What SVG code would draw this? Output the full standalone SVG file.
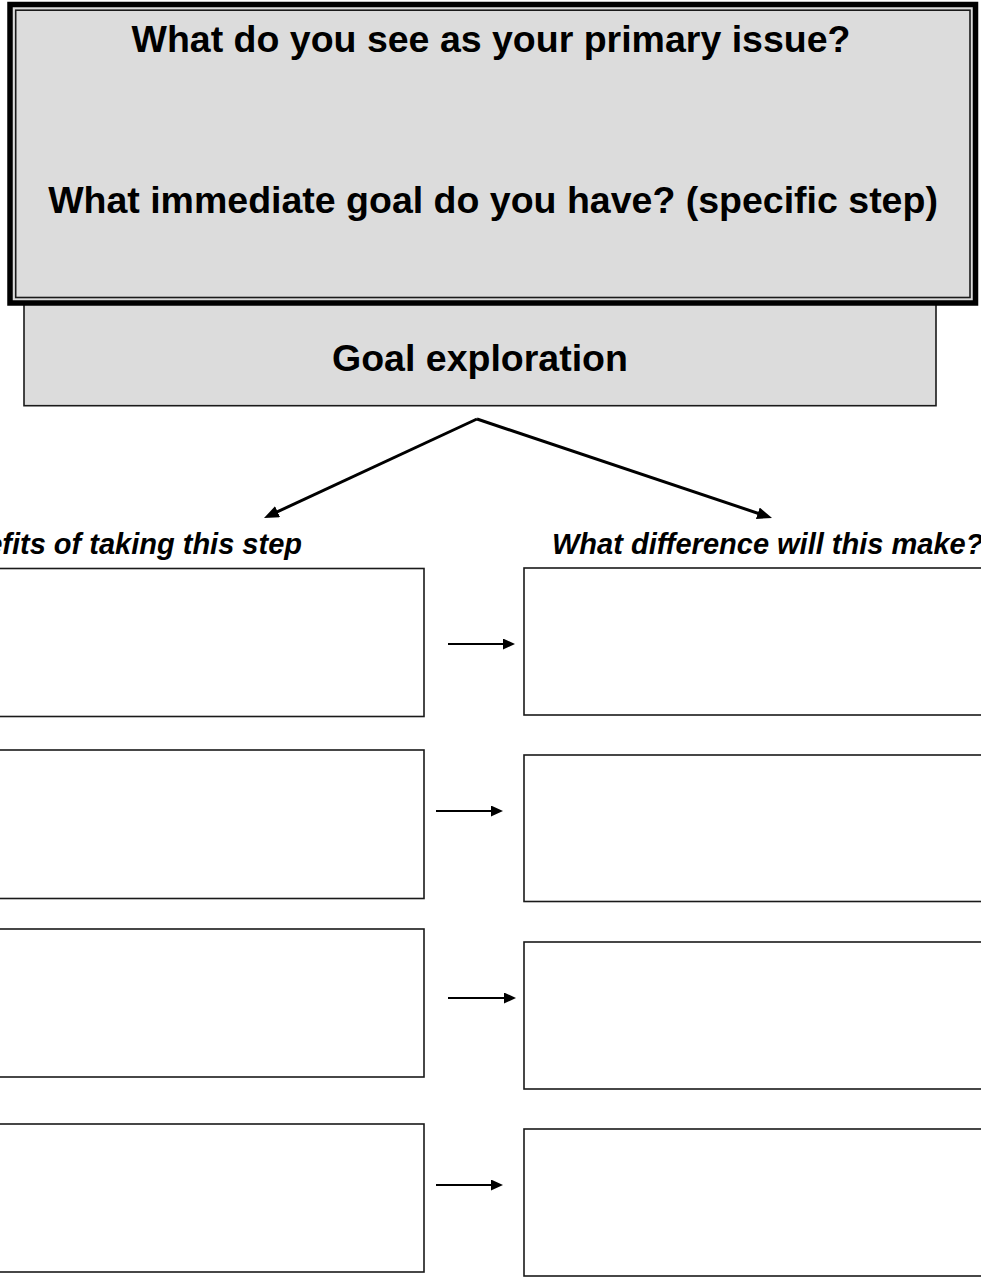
<svg xmlns="http://www.w3.org/2000/svg" width="981" height="1283" viewBox="0 0 981 1283">
  <style>
    .bold { font-family: "Liberation Sans", Arial, sans-serif; font-weight: bold; fill: #000; }
    .title { font-size: 37.5px; text-anchor: middle; }
    .label { font-size: 29px; font-style: italic; }
    .box { fill: #fff; stroke: #1a1a1a; stroke-width: 1.6; }
    .gray { fill: #dcdcdc; }
    .big { stroke: #000; stroke-width: 3; fill: none; }
    .small { stroke: #000; stroke-width: 2; fill: none; }
  </style>
  <defs>
    <marker id="bigHead" markerUnits="userSpaceOnUse" markerWidth="16" markerHeight="13" refX="10" refY="6" orient="auto">
      <path d="M0,0 L15,6 L0,12 z" fill="#000"/>
    </marker>
    <marker id="smallHead" markerUnits="userSpaceOnUse" markerWidth="13" markerHeight="12" refX="8" refY="5.5" orient="auto">
      <path d="M0,0 L12,5.5 L0,11 z" fill="#000"/>
    </marker>
  </defs>
  <rect width="981" height="1283" fill="#fff"/>

  <g id="goal-exploration">
    <rect x="24" y="303" width="912" height="102.7" class="gray" stroke="#1a1a1a" stroke-width="1.6"/>
    <text x="480" y="371" class="bold title">Goal exploration</text>
  </g>

  <g id="primary-issue">
    <rect x="10" y="4.5" width="965.5" height="298.5" class="gray" stroke="#000" stroke-width="5.5"/>
    <rect x="15.7" y="10.2" width="954.3" height="287.3" fill="none" stroke="#1a1a1a" stroke-width="1.6"/>
    <text x="491" y="52" class="bold title">What do you see as your primary issue?</text>
    <text x="493" y="213" class="bold title">What immediate goal do you have? (specific step)</text>
  </g>

  <g id="label-benefits">
    <text x="302" y="554" class="bold label" text-anchor="end">Benefits of taking this step</text>
  </g>
  <g id="label-difference">
    <text x="552" y="554" class="bold label">What difference will this make?</text>
  </g>

  <g id="benefit-1"><rect x="-20" y="568.5" width="444" height="148" class="box"/></g>
  <g id="benefit-2"><rect x="-20" y="750" width="444" height="148.5" class="box"/></g>
  <g id="benefit-3"><rect x="-20" y="929" width="444" height="148" class="box"/></g>
  <g id="benefit-4"><rect x="-20" y="1124" width="444" height="148" class="box"/></g>

  <g id="difference-1"><rect x="524" y="568" width="480" height="147" class="box"/></g>
  <g id="difference-2"><rect x="524" y="755" width="480" height="146.5" class="box"/></g>
  <g id="difference-3"><rect x="524" y="942" width="480" height="147" class="box"/></g>
  <g id="difference-4"><rect x="524" y="1129" width="480" height="147" class="box"/></g>

  <g id="connectors">
    <line x1="477" y1="419" x2="268.5" y2="515.9" class="big" marker-end="url(#bigHead)"/>
    <line x1="477" y1="419" x2="767.3" y2="516.4" class="big" marker-end="url(#bigHead)"/>
    <line x1="448" y1="644" x2="511" y2="644" class="small" marker-end="url(#smallHead)"/>
    <line x1="436" y1="811" x2="499" y2="811" class="small" marker-end="url(#smallHead)"/>
    <line x1="448" y1="998" x2="512" y2="998" class="small" marker-end="url(#smallHead)"/>
    <line x1="436" y1="1185" x2="499" y2="1185" class="small" marker-end="url(#smallHead)"/>
  </g>
</svg>
